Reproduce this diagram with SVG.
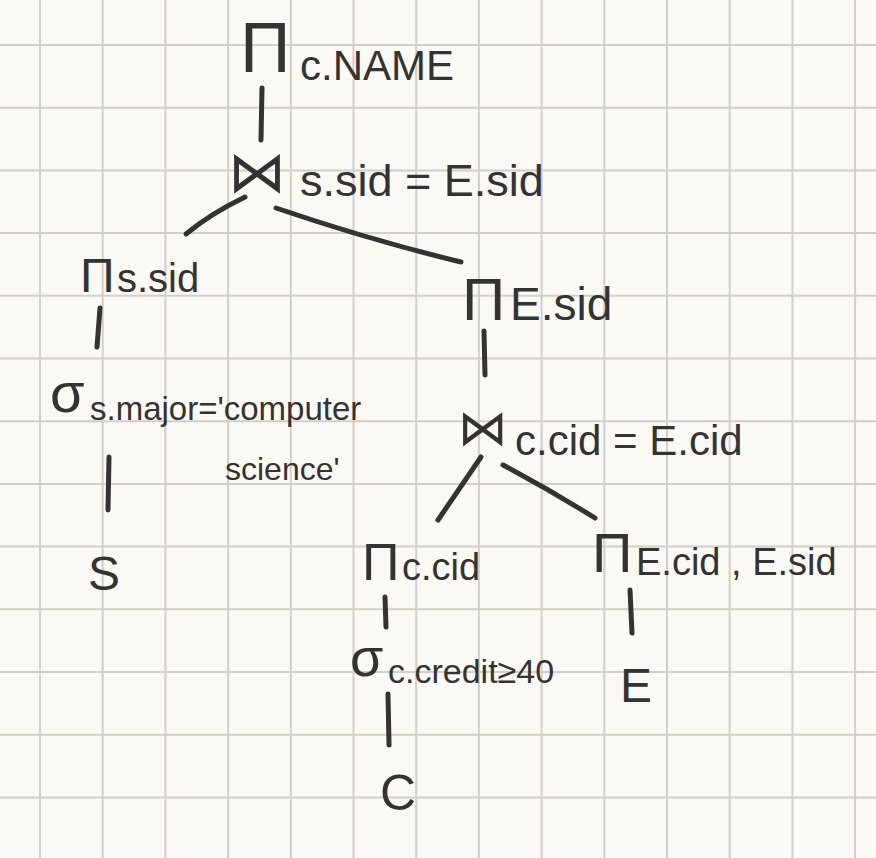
<svg xmlns="http://www.w3.org/2000/svg" width="876" height="858" viewBox="0 0 876 858">
<style>
.bg{fill:#fbf9f4}
.grid{stroke:#d2cec8;stroke-width:2;fill:none}
.t{font-family:"Liberation Sans","DejaVu Sans",sans-serif;fill:#333;}
.sym{font-family:"DejaVu Sans",sans-serif;fill:#333;}
.edge{stroke:#333;stroke-width:5;stroke-linecap:round;fill:none}
</style>
<rect class="bg" width="876" height="858"/>
<path class="grid" d="M40 0V858M102.7 0V858M165.4 0V858M228.1 0V858M290.8 0V858M353.5 0V858M416.2 0V858M478.9 0V858M541.6 0V858M604.3 0V858M667 0V858M729.7 0V858M792.4 0V858M855.1 0V858M0 45H876M0 107.7H876M0 170.4H876M0 233.1H876M0 295.8H876M0 358.5H876M0 421.2H876M0 483.9H876M0 546.6H876M0 609.3H876M0 672H876M0 734.7H876M0 797.4H876"/>
<g id="connectors">
<path class="edge" d="M262 88L261 140"/>
<path class="edge" d="M245 197Q210 214 186 234"/>
<path class="edge" d="M276 208Q370 240 461 262"/>
<path class="edge" d="M100 308L97 347"/>
<path class="edge" d="M109 457L108 510"/>
<path class="edge" d="M484 331L485 375"/>
<path class="edge" d="M481 457L438 520"/>
<path class="edge" d="M503 465Q550 490 595 518"/>
<path class="edge" d="M385 597L386 627"/>
<path class="edge" d="M388 694L389 745"/>
<path class="edge" d="M630 590L632 633"/>
</g>
<g id="n_proj_name"><text class="t" x="240" y="72" font-size="70">Π</text><text class="t" x="300" y="80" font-size="42">c.NAME</text></g>
<g id="n_join1"><text class="sym" x="228" y="192" font-size="58">⋈</text><text class="t" x="300" y="196" font-size="45">s.sid = E.sid</text></g>
<g id="n_proj_ssid"><text class="t" x="80" y="292" font-size="48">Π</text><text class="t" x="117" y="292" font-size="40">s.sid</text></g>
<g id="n_sel_major"><text class="t" x="50" y="412" font-size="56">σ</text><text class="t" x="90" y="420" font-size="33">s.major='computer</text><text class="t" x="225" y="480" font-size="32">science'</text></g>
<g id="n_S"><text class="t" x="88" y="590" font-size="48">S</text></g>
<g id="n_proj_esid"><text class="t" x="462" y="320" font-size="60">Π</text><text class="t" x="510" y="320" font-size="46">E.sid</text></g>
<g id="n_join2"><text class="sym" x="458" y="445" font-size="50">⋈</text><text class="t" x="515" y="455" font-size="42">c.cid = E.cid</text></g>
<g id="n_proj_ccid"><text class="t" x="362" y="580" font-size="52">Π</text><text class="t" x="402" y="580" font-size="38">c.cid</text></g>
<g id="n_proj_ecid"><text class="t" x="592" y="572" font-size="56">Π</text><text class="t" x="636" y="575" font-size="38">E.cid , E.sid</text></g>
<g id="n_sel_credit"><text class="t" x="350" y="676" font-size="54">σ</text><text class="t" x="388" y="683" font-size="34">c.credit≥40</text></g>
<g id="n_C"><text class="t" x="380" y="810" font-size="50">C</text></g>
<g id="n_E"><text class="t" x="620" y="702" font-size="48">E</text></g>
</svg>
